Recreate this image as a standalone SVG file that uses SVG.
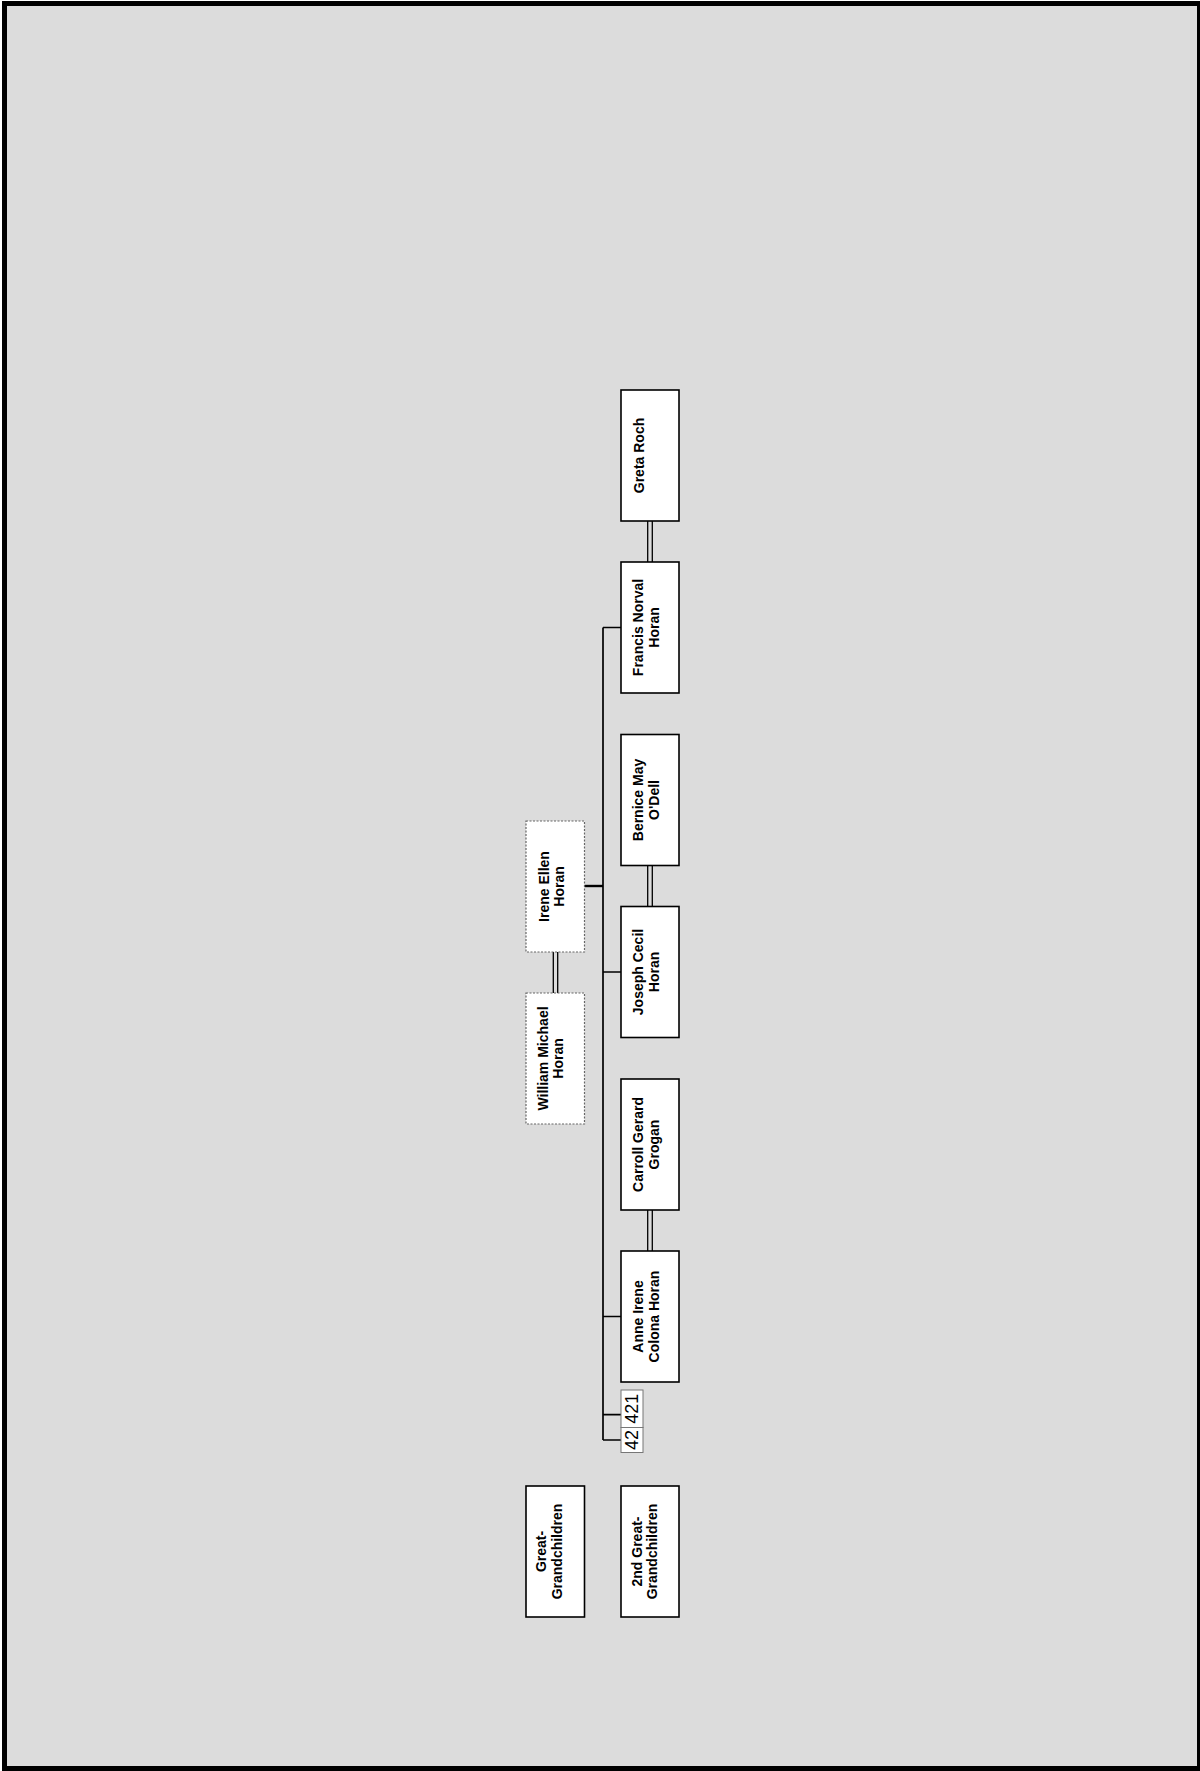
<svg xmlns="http://www.w3.org/2000/svg" width="1200" height="1771" viewBox="0 0 1200 1771">
<style>
.bg{fill:#dcdcdc;stroke:#000;stroke-width:5}
.box{fill:#fff;stroke:#000;stroke-width:1.6}
.dbox{fill:#fff;stroke:#666;stroke-width:1.2;stroke-dasharray:2 1.5}
.nbox{fill:#fff;stroke:#777;stroke-width:1}
.t{font-family:"Liberation Sans",Arial,sans-serif;font-weight:bold;font-size:14px;fill:#000;text-anchor:middle}
.n{font-family:"Liberation Sans",Arial,sans-serif;font-size:18px;fill:#000;text-anchor:middle}
.ln{stroke:#000;stroke-width:1.7;fill:none}
.th{stroke:#000;stroke-width:2.4;fill:none}
.dl{stroke:#000;stroke-width:1.3;fill:none}
</style>
<rect class="bg" x="4.5" y="3.5" width="1195" height="1765"/>
<g id="connectors">
<path class="ln" d="M603 627.5V1440"/>
<path class="ln" d="M603 627.5H621M603 972H621M603 1316.5H621M603 1414.7H621M603 1440H621"/>
<path class="th" d="M584 886H603"/>
<path class="dl" d="M647.7 521V562M652.3 521V562M647.7 865.5V906.5M652.3 865.5V906.5M647.7 1210V1251M652.3 1210V1251M553.3 952V993M557.7 952V993"/>
</g>
<g id="greta">
<rect class="box" x="621" y="390" width="58" height="131"/>
<text class="t" transform="translate(644 455.5) rotate(-90)">Greta Roch</text>
</g>
<g id="francis">
<rect class="box" x="621" y="562" width="58" height="131"/>
<text class="t" transform="translate(643 627.5) rotate(-90)">Francis Norval</text>
<text class="t" transform="translate(658.5 627.5) rotate(-90)">Horan</text>
</g>
<g id="bernice">
<rect class="box" x="621" y="734.5" width="58" height="131"/>
<text class="t" transform="translate(643 800) rotate(-90)">Bernice May</text>
<text class="t" transform="translate(658.5 800) rotate(-90)">O'Dell</text>
</g>
<g id="joseph">
<rect class="box" x="621" y="906.5" width="58" height="131"/>
<text class="t" transform="translate(643 972) rotate(-90)">Joseph Cecil</text>
<text class="t" transform="translate(658.5 972) rotate(-90)">Horan</text>
</g>
<g id="carroll">
<rect class="box" x="621" y="1079" width="58" height="131"/>
<text class="t" transform="translate(643 1144.5) rotate(-90)">Carroll Gerard</text>
<text class="t" transform="translate(658.5 1144.5) rotate(-90)">Grogan</text>
</g>
<g id="anne">
<rect class="box" x="621" y="1251" width="58" height="131"/>
<text class="t" transform="translate(643 1316.5) rotate(-90)">Anne Irene</text>
<text class="t" transform="translate(658.5 1316.5) rotate(-90)">Colona Horan</text>
</g>
<g id="irene">
<rect class="dbox" x="526" y="821" width="58.5" height="131"/>
<text class="t" transform="translate(548.5 886.5) rotate(-90)">Irene Ellen</text>
<text class="t" transform="translate(563.5 886.5) rotate(-90)">Horan</text>
</g>
<g id="william">
<rect class="dbox" x="526" y="993" width="58.5" height="131"/>
<text class="t" transform="translate(548 1058.5) rotate(-90)">William Michael</text>
<text class="t" transform="translate(563 1058.5) rotate(-90)">Horan</text>
</g>
<g id="n421">
<rect class="nbox" x="621" y="1390" width="22" height="37.5"/>
<text class="n" transform="translate(637.5 1408.8) rotate(-90)">421</text>
</g>
<g id="n42">
<rect class="nbox" x="621" y="1427.5" width="22" height="25"/>
<text class="n" transform="translate(637.5 1440) rotate(-90)">42</text>
</g>
<g id="legend-gg">
<rect class="box" x="526" y="1486" width="58.5" height="131"/>
<text class="t" transform="translate(546 1551.5) rotate(-90)">Great-</text>
<text class="t" transform="translate(561.5 1551.5) rotate(-90)">Grandchildren</text>
</g>
<g id="legend-2gg">
<rect class="box" x="621" y="1486" width="58" height="131"/>
<text class="t" transform="translate(641.5 1551.5) rotate(-90)">2nd Great-</text>
<text class="t" transform="translate(657 1551.5) rotate(-90)">Grandchildren</text>
</g>
</svg>
